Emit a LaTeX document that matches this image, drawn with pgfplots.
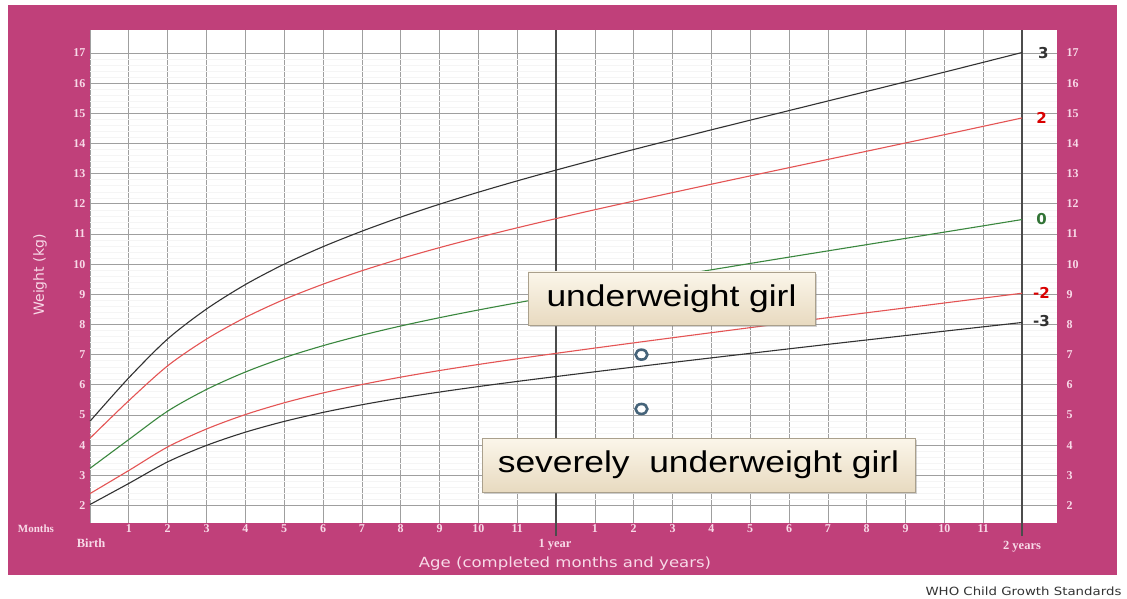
\documentclass[border=0pt]{standalone}
\usepackage{graphicx}
\usepackage{pgfplots}
\usepackage{pgfplotstable}
\pgfplotsset{compat=1.18}
\usepackage{fontspec}
\setmainfont{DejaVu Sans}
\newfontfamily\arialfont{Liberation Sans}
\newfontfamily\labfont{Liberation Serif}
\usetikzlibrary{shadows}
\definecolor{pinkbg}{RGB}{192,64,122}
\definecolor{pinktxt}{RGB}{248,218,232}
\definecolor{curvered}{RGB}{228,84,84}
\definecolor{curvegreen}{RGB}{58,135,62}
\definecolor{curveblack}{RGB}{50,50,50}
\definecolor{boxtop}{RGB}{251,246,234}
\definecolor{boxbot}{RGB}{232,218,192}
\definecolor{boxborder}{RGB}{170,160,140}
\definecolor{markc}{RGB}{70,100,122}

\pgfplotstableread{
m  m3     m2     med     p2      p3
0  2.033  2.395  3.232   4.231   4.793
1  2.732  3.161  4.187   5.476   6.233
2  3.446  3.941  5.128   6.630   7.520
3  3.992  4.536  5.846   7.515   8.512
4  4.430  5.014  6.424   8.233   9.322
5  4.787  5.404  6.899   8.830   9.999
6  5.085  5.730  7.297   9.335   10.578
7  5.339  6.009  7.642   9.780   11.091
8  5.562  6.254  7.949   10.181  11.558
9  5.760  6.473  8.225   10.547  11.986
10 5.942  6.674  8.480   10.885  12.383
11 6.112  6.862  8.719   11.204  12.759
12 6.274  7.043  8.948   11.509  13.117
13 6.432  7.218  9.170   11.803  13.462
14 6.588  7.390  9.387   12.090  13.799
15 6.741  7.560  9.601   12.371  14.127
16 6.893  7.728  9.812   12.649  14.451
17 7.043  7.895  10.023  12.924  14.771
18 7.193  8.060  10.232  13.197  15.089
19 7.341  8.225  10.439  13.470  15.407
20 7.487  8.388  10.646  13.742  15.724
21 7.633  8.550  10.853  14.016  16.043
22 7.778  8.712  11.061  14.290  16.364
23 7.922  8.874  11.269  14.567  16.688
24 8.066  9.036  11.478  14.845  17.014
}\who

\begin{document}
\begin{tikzpicture}
\useasboundingbox (0pt,0pt) rectangle (1127pt,598pt);
\fill[pinkbg] (8pt,23pt) rectangle (1117pt,593pt);

\begin{axis}[
  at={(90pt,75pt)}, anchor=south west,
  width=967pt, height=493pt, scale only axis,
  xmin=0, xmax=24.9, ymin=1.42, ymax=17.76,
  axis background/.style={fill=white},
  axis line style={draw=none},
  xtick={0,...,24},
  xticklabels={,1,2,3,4,5,6,7,8,9,10,11,,1,2,3,4,5,6,7,8,9,10,11,},
  ytick={2,...,17},
  minor y tick num=4,
  grid=both,
  major grid style={draw=gray!75, line width=0.7pt},
  minor grid style={draw=gray!8, line width=0.4pt},
  tick style={draw=none},
  /pgf/number format/assume math mode=true,
  ticklabel style={font=\labfont\bfseries\fontsize{12}{12}\selectfont, text=pinktxt},
  xticklabel style={yshift=2pt},
  yticklabel style={xshift=-1pt},
  clip=false,
]
\draw[line width=1.3pt, draw=black!70] (axis cs:12,1.0) -- (axis cs:12,17.76);
\draw[line width=1.3pt, draw=black!70] (axis cs:24,1.0) -- (axis cs:24,17.76);

\addplot[curveblack, line width=1.1pt, smooth] table[x=m,y=m3]{\who};
\addplot[curvered, line width=1.1pt, smooth] table[x=m,y=m2]{\who};
\addplot[curvegreen, line width=1.1pt, smooth] table[x=m,y=med]{\who};
\addplot[curvered, line width=1.1pt, smooth] table[x=m,y=p2]{\who};
\addplot[curveblack, line width=1.1pt, smooth] table[x=m,y=p3]{\who};

\addplot[only marks, mark=*, mark size=5pt,
  mark options={draw=markc, fill=white, line width=2.6pt, xscale=1.18}]
  coordinates {(14.2,7.0) (14.2,5.2)};

\node[font=\bfseries\fontsize{15}{15}\selectfont, text=curveblack] at (axis cs:24.55,17.0) {3};
\node[font=\bfseries\fontsize{15}{15}\selectfont, text=red!85!black] at (axis cs:24.5,14.85) {2};
\node[font=\bfseries\fontsize{15}{15}\selectfont, text=curvegreen!85!black] at (axis cs:24.5,11.5) {0};
\node[font=\bfseries\fontsize{15}{15}\selectfont, text=red!85!black] at (axis cs:24.5,9.05) {-2};
\node[font=\bfseries\fontsize{15}{15}\selectfont, text=curveblack] at (axis cs:24.5,8.1) {-3};
\end{axis}

\begin{axis}[
  at={(90pt,75pt)}, anchor=south west,
  width=967pt, height=493pt, scale only axis,
  xmin=0, xmax=24.9, ymin=1.42, ymax=17.76,
  hide x axis,
  axis y line*=right,
  axis line style={draw=none},
  ytick={2,...,17},
  tick style={draw=none},
  /pgf/number format/assume math mode=true,
  ticklabel style={font=\labfont\bfseries\fontsize{12}{12}\selectfont, text=pinktxt},
  yticklabel style={xshift=6pt},
]
\addplot[draw=none] coordinates {(0,2) (24,17)};
\end{axis}

\node[rotate=90, text=pinktxt, font=\fontsize{14}{14}\selectfont] at (40pt,323pt) {Weight (kg)};
\node[text=pinktxt] at (565pt,34pt) {\scalebox{1.18}[1]{\fontsize{14}{14}\selectfont Age (completed months and years)}};
\node[text=black!80, anchor=east] at (1125pt,7pt) {\scalebox{1.18}[1]{\fontsize{11.3}{11.3}\selectfont WHO Child Growth Standards}};
\node[text=pinktxt, font=\labfont\bfseries\fontsize{11}{11}\selectfont] at (36pt,69pt) {Months};
\node[text=pinktxt, font=\labfont\bfseries\fontsize{12.5}{12.5}\selectfont] at (91pt,55pt) {Birth};
\node[text=pinktxt, font=\labfont\bfseries\fontsize{12.5}{12.5}\selectfont] at (555pt,53pt) {1 year};
\node[text=pinktxt, font=\labfont\bfseries\fontsize{12.5}{12.5}\selectfont] at (1022pt,51pt) {2 years};

\node[draw=boxborder, line width=0.6pt, top color=boxtop, bottom color=boxbot,
  drop shadow={shadow xshift=2pt, shadow yshift=-2pt, opacity=0.35},
  minimum width=287pt, minimum height=53pt, inner sep=0pt]
  at (671.5pt,299.5pt) {\scalebox{1.18}[1]{\arialfont\fontsize{30}{30}\selectfont underweight girl}};
\node[draw=boxborder, line width=0.6pt, top color=boxtop, bottom color=boxbot,
  drop shadow={shadow xshift=2pt, shadow yshift=-2pt, opacity=0.35},
  minimum width=433pt, minimum height=54pt, inner sep=0pt]
  at (698.5pt,133pt) {\scalebox{1.18}[1]{\arialfont\fontsize{30}{30}\selectfont severely\ \ underweight girl}};
\end{tikzpicture}
\end{document}
